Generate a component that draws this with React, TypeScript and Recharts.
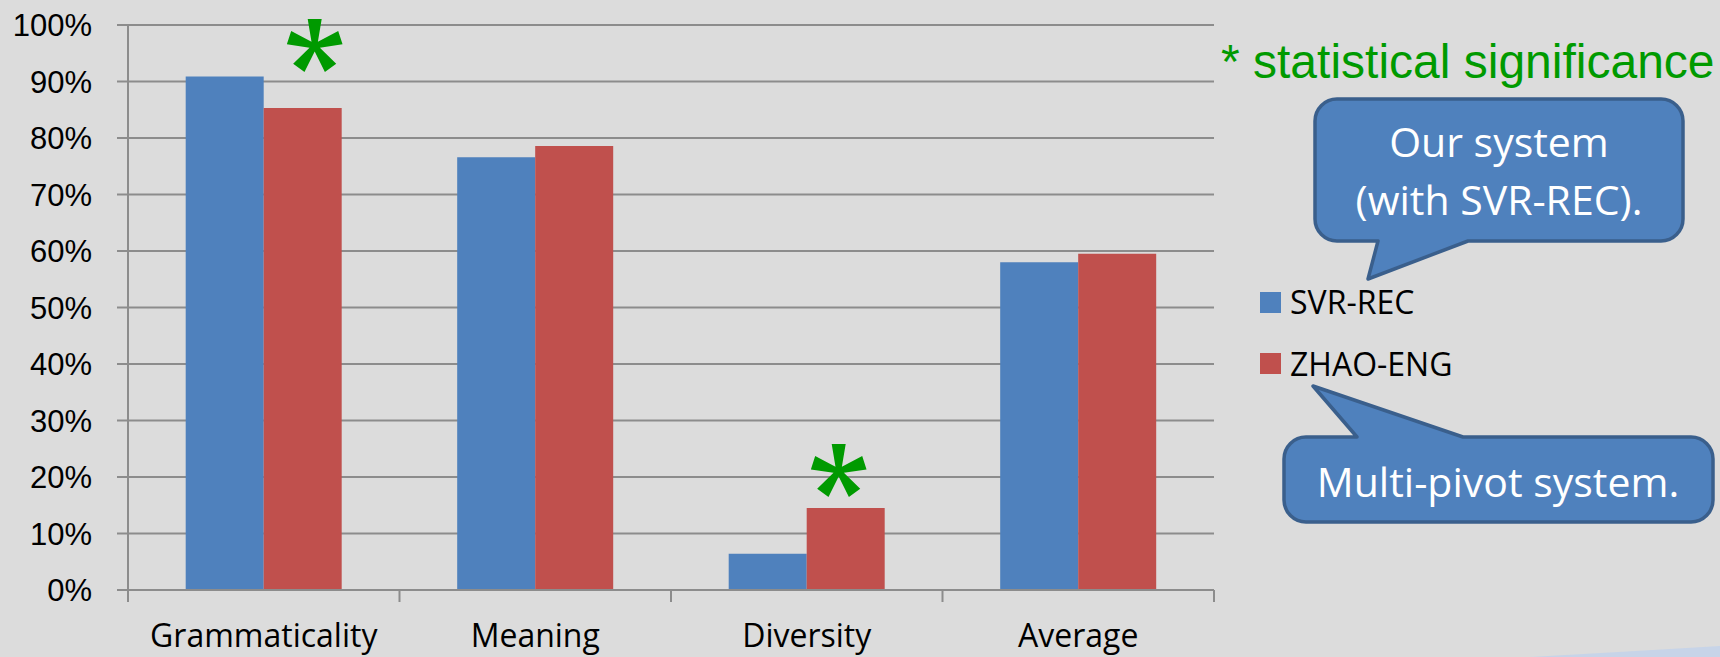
import React from 'react'
import {
  BarChart, Bar, XAxis, YAxis, CartesianGrid, Legend, LabelList,
} from 'recharts'

// human evaluation results, share of judgements per criterion
const categories = ['Grammaticality', 'Meaning', 'Diversity', 'Average']
const svrRec = [0.909, 0.766, 0.064, 0.58]
const zhaoEng = [0.853, 0.786, 0.145, 0.595]
const significant = [true, false, true, false]
const yTicks = [0, 0.1, 0.2, 0.3, 0.4, 0.5, 0.6, 0.7, 0.8, 0.9, 1]

const data = categories.map((name, i) => ({
  name,
  svr: svrRec[i],
  zhao: zhaoEng[i],
}))

const BLUE = '#4F81BD'
const RED = '#C0504D'
const GREEN = '#009A00'
const AXIS = '#8C8C8C'
const CALLOUT_EDGE = '#3A5F8C'
const BODY_FONT = '"Open Sans", sans-serif'
const ARIAL = '"Liberation Sans", Arial, sans-serif'

// where each significance star sits relative to its bar
const starNudge: Record<string, { dx: number; lift: number }> = {
  Grammaticality: { dx: 12, lift: 62 },
  Diversity: { dx: -7, lift: 37 },
}

// five-armed wedge asterisk
function starPath(cx: number, cy: number, L = 27, w0 = 3.2, w1 = 7) {
  const r0 = w0 / Math.tan((36 * Math.PI) / 180)
  const pts: string[] = []
  for (let k = 0; k < 5; k++) {
    const t = ((-90 + 72 * k) * Math.PI) / 180
    const dx = Math.cos(t), dy = Math.sin(t)
    const nx = -dy, ny = dx
    pts.push(`${cx + r0 * dx - w0 * nx},${cy + r0 * dy - w0 * ny}`)
    pts.push(`${cx + L * dx - w1 * nx},${cy + L * dy - w1 * ny}`)
    pts.push(`${cx + L * dx + w1 * nx},${cy + L * dy + w1 * ny}`)
    pts.push(`${cx + r0 * dx + w0 * nx},${cy + r0 * dy + w0 * ny}`)
  }
  return `M${pts.join('L')}Z`
}

function SignificanceStar(props: any) {
  const { x, y, width, value } = props
  const i = categories.indexOf(value)
  if (i < 0 || !significant[i]) return null
  const n = starNudge[value] ?? { dx: 0, lift: 40 }
  return <path d={starPath(x + width / 2 + n.dx, y - n.lift)} fill={GREEN} />
}

// label under each category plus tick marks on the category boundaries
function CategoryTick(props: any) {
  const { x, y, payload, index } = props
  const half = payload?.offset ?? 0
  return (
    <g>
      {index === 0 && (
        <line x1={x - half} y1={y} x2={x - half} y2={y + 12} stroke={AXIS} strokeWidth={2} />
      )}
      <line x1={x + half} y1={y} x2={x + half} y2={y + 12} stroke={AXIS} strokeWidth={2} />
      <text
        x={x}
        y={y + 57}
        textAnchor="middle"
        fill="#000"
        style={{ fontFamily: BODY_FONT, fontSize: 32 }}
      >
        {payload.value}
      </text>
    </g>
  )
}

function LegendBox({ payload }: any) {
  return (
    <div>
      {(payload ?? []).map((p: any) => (
        <div
          key={p.value}
          style={{ display: 'flex', alignItems: 'center', height: 40, marginBottom: 21.5 }}
        >
          <span style={{ display: 'inline-block', width: 21, height: 21, background: p.color, marginRight: 9 }} />
          <span style={{ fontFamily: BODY_FONT, fontSize: 32, lineHeight: '40px', color: '#000' }}>
            {p.value}
          </span>
        </div>
      ))}
    </div>
  )
}

// rounded box with a pointer, tail given as [baseA, tipX, tipY, baseB]
function calloutBelow(x0: number, y0: number, x1: number, y1: number, r: number,
  tail: [number, number, number, number]) {
  const [bR, tx, ty, bL] = tail
  return [
    `M${x0 + r},${y0}`, `H${x1 - r}`, `A${r},${r} 0 0 1 ${x1},${y0 + r}`,
    `V${y1 - r}`, `A${r},${r} 0 0 1 ${x1 - r},${y1}`,
    `H${bR}`, `L${tx},${ty}`, `L${bL},${y1}`,
    `H${x0 + r}`, `A${r},${r} 0 0 1 ${x0},${y1 - r}`,
    `V${y0 + r}`, `A${r},${r} 0 0 1 ${x0 + r},${y0}`, 'Z',
  ].join(' ')
}

function calloutAbove(x0: number, y0: number, x1: number, y1: number, r: number,
  tail: [number, number, number, number]) {
  const [bL, tx, ty, bR] = tail
  return [
    `M${x0 + r},${y0}`, `H${bL}`, `L${tx},${ty}`, `L${bR},${y0}`,
    `H${x1 - r}`, `A${r},${r} 0 0 1 ${x1},${y0 + r}`,
    `V${y1 - r}`, `A${r},${r} 0 0 1 ${x1 - r},${y1}`,
    `H${x0 + r}`, `A${r},${r} 0 0 1 ${x0},${y1 - r}`,
    `V${y0 + r}`, `A${r},${r} 0 0 1 ${x0 + r},${y0}`, 'Z',
  ].join(' ')
}

function Annotations() {
  const white = { fontFamily: BODY_FONT, fontSize: 41 }
  return (
    <svg
      width={1720}
      height={657}
      style={{ position: 'absolute', left: 0, top: 0, pointerEvents: 'none' }}
    >
      <path d="M1530,657 Q1620,652 1720,646 L1720,657 Z" fill="#C7D4E8" />
      <text x={1221} y={78} fill={GREEN} style={{ fontFamily: ARIAL, fontSize: 48 }}>
        * statistical significance
      </text>
      <path
        d={calloutBelow(1315, 99, 1683, 241, 22, [1468, 1368, 279, 1378])}
        fill={BLUE}
        stroke={CALLOUT_EDGE}
        strokeWidth={3.5}
        strokeLinejoin="round"
      />
      <text x={1499} y={157} textAnchor="middle" fill="#fff" style={white}>Our system</text>
      <text x={1499} y={215} textAnchor="middle" fill="#fff" style={white}>(with SVR-REC).</text>
      <path
        d={calloutAbove(1284, 437, 1713, 522, 22, [1357, 1313, 386, 1463])}
        fill={BLUE}
        stroke={CALLOUT_EDGE}
        strokeWidth={3.5}
        strokeLinejoin="round"
      />
      <text x={1498} y={497} textAnchor="middle" fill="#fff" style={white}>Multi-pivot system.</text>
    </svg>
  )
}

export default function App() {
  return (
    <div
      style={{
        position: 'absolute', left: 0, top: 0, width: 1720, height: 657,
        background: '#DCDCDC', overflow: 'hidden',
      }}
    >
      <BarChart
        width={1720}
        height={657}
        data={data}
        margin={{ top: 25, right: 506, left: 28, bottom: 7 }}
        barCategoryGap="21.25%"
        barGap={0}
      >
        <CartesianGrid vertical={false} stroke={AXIS} strokeWidth={2} />
        <XAxis
          dataKey="name"
          interval={0}
          height={60}
          tickLine={false}
          tickSize={0}
          tickMargin={0}
          axisLine={{ stroke: AXIS, strokeWidth: 2 }}
          tick={<CategoryTick />}
        />
        <YAxis
          type="number"
          domain={[0, 1]}
          ticks={yTicks}
          width={100}
          interval={0}
          tickSize={11}
          tickMargin={25}
          axisLine={{ stroke: AXIS, strokeWidth: 2 }}
          tickLine={{ stroke: AXIS, strokeWidth: 2 }}
          tickFormatter={(v: number) => `${Math.round(v * 100)}%`}
          tick={{ fill: '#000', fontSize: 31, fontFamily: ARIAL }}
        />
        <Legend
          layout="vertical"
          align="center"
          verticalAlign="middle"
          content={<LegendBox />}
          wrapperStyle={{ left: 1260, top: 282, width: 300 }}
        />
        <Bar dataKey="svr" name="SVR-REC" fill={BLUE} isAnimationActive={false} />
        <Bar dataKey="zhao" name="ZHAO-ENG" fill={RED} isAnimationActive={false}>
          <LabelList dataKey="name" content={<SignificanceStar />} />
        </Bar>
      </BarChart>
      <Annotations />
    </div>
  )
}
